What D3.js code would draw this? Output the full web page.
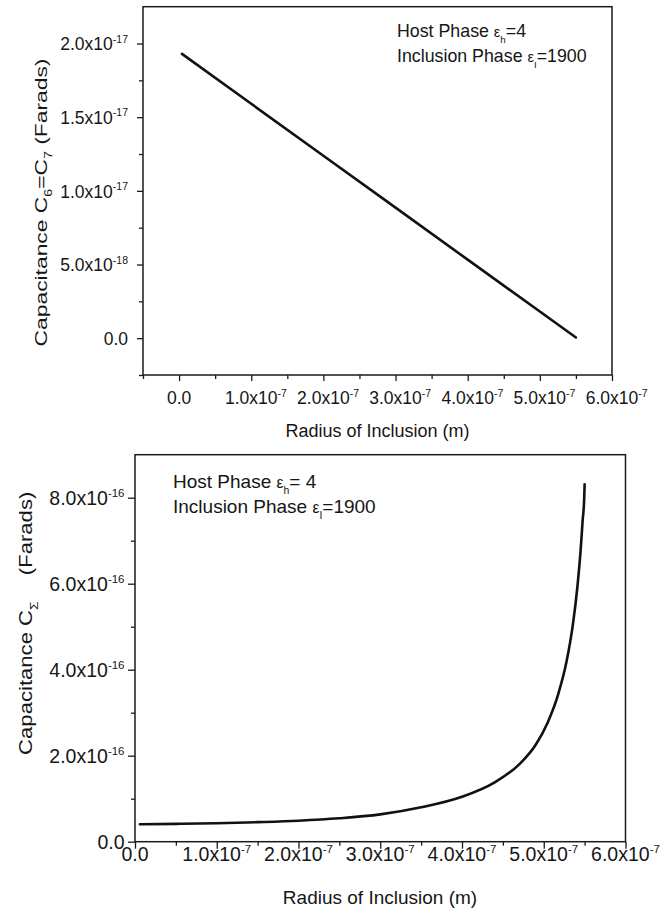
<!DOCTYPE html>
<html>
<head>
<meta charset="utf-8">
<script src="https://cdn.jsdelivr.net/npm/d3@7"></script>
<style>
  body { margin: 0; background: #fff; }
  svg { display: block; }
  text { font-family: "Liberation Sans", Arial, Helvetica, sans-serif; fill: #161616; }
</style>
</head>
<body>
<svg id="chart" width="668" height="909"></svg>
<script>
// ---------- DATA ----------
// Top panel: C6 = C7 versus radius of inclusion
const radiusTop = [0.04e-7, 1.0e-7, 2.0e-7, 3.0e-7, 4.0e-7, 5.0e-7, 5.5e-7];
const capTop    = [1.93e-17, 1.591e-17, 1.238e-17, 0.886e-17, 0.533e-17, 0.181e-17, 0.005e-17];

// Bottom panel: C_Sigma versus radius of inclusion
const radiusBottom = [0.06e-7, 0.5e-7, 1.0e-7, 1.5e-7, 2.0e-7, 2.5e-7, 3.0e-7, 3.5e-7, 4.0e-7, 4.4e-7,
                      4.7e-7, 4.9e-7, 5.05e-7, 5.18e-7, 5.28e-7, 5.36e-7, 5.41e-7, 5.45e-7, 5.475e-7, 5.495e-7, 5.5e-7];
const capBottom    = [0.405e-16, 0.415e-16, 0.43e-16, 0.455e-16, 0.488e-16, 0.544e-16, 0.635e-16, 0.80e-16, 1.045e-16, 1.38e-16,
                      1.80e-16, 2.25e-16, 2.78e-16, 3.45e-16, 4.20e-16, 5.10e-16, 5.90e-16, 6.75e-16, 7.45e-16, 8.0e-16, 8.31e-16];

// Ticks
const xMajorTop   = [0, 1e-7, 2e-7, 3e-7, 4e-7, 5e-7, 6e-7];
const xMinorTop   = [-0.5e-7, 0.5e-7, 1.5e-7, 2.5e-7, 3.5e-7, 4.5e-7, 5.5e-7];
const xTickMantTop = ["0.0", "1.0x10", "2.0x10", "3.0x10", "4.0x10", "5.0x10", "6.0x10"];
const xTickExpTop  = ["", "-7", "-7", "-7", "-7", "-7", "-7"];
const yMajorTop   = [0, 0.5e-17, 1.0e-17, 1.5e-17, 2.0e-17];
const yMinorTop   = [-0.25e-17, 0.25e-17, 0.75e-17, 1.25e-17, 1.75e-17];
const yTickMantTop = ["0.0", "5.0x10", "1.0x10", "1.5x10", "2.0x10"];
const yTickExpTop  = ["", "-18", "-17", "-17", "-17"];

const xMajorBottom = [0, 1e-7, 2e-7, 3e-7, 4e-7, 5e-7, 6e-7];
const xMinorBottom = [0.5e-7, 1.5e-7, 2.5e-7, 3.5e-7, 4.5e-7, 5.5e-7];
const xTickMantBottom = ["0.0", "1.0x10", "2.0x10", "3.0x10", "4.0x10", "5.0x10", "6.0x10"];
const xTickExpBottom  = ["", "-7", "-7", "-7", "-7", "-7", "-7"];
const yMajorBottom = [0, 2e-16, 4e-16, 6e-16, 8e-16];
const yMinorBottom = [1e-16, 3e-16, 5e-16, 7e-16];
const yTickMantBottom = ["0.0", "2.0x10", "4.0x10", "6.0x10", "8.0x10"];
const yTickExpBottom  = ["", "-16", "-16", "-16", "-16"];

// Texts
const xTitle = "Radius of Inclusion (m)";
const yTitleTop = [{t: "Capacitance C"}, {t: "6", k: "sub"}, {t: "=C"}, {t: "7", k: "sub"}, {t: " (Farads)"}];
const yTitleBottom = [{t: "Capacitance C"}, {t: "\u03A3", k: "sub"}, {t: "(Farads)", dx: 22}];
const legendTop = [
  [{t: "Host Phase "}, {t: "\u03B5", k: "eps"}, {t: "h", k: "sub"}, {t: "=4"}],
  [{t: "Inclusion Phase "}, {t: "\u03B5", k: "eps"}, {t: "I", k: "sub"}, {t: "=1900"}]
];
const legendBottom = [
  [{t: "Host Phase "}, {t: "\u03B5", k: "eps"}, {t: "h", k: "sub"}, {t: "= 4"}],
  [{t: "Inclusion Phase "}, {t: "\u03B5", k: "eps"}, {t: "I", k: "sub"}, {t: "=1900"}]
];

// ---------- DRAWING ----------
const svg = d3.select("#chart");

function richText(parent, parts, fs, subFs) {
  const text = parent.append("text").attr("font-size", fs);
  let shift = 0;
  parts.forEach(p => {
    const ts = text.append("tspan").text(p.t);
    let target = 0, size = fs;
    if (p.k === "sub") { target = fs * 0.33; size = subFs || fs * 0.6; }
    if (p.k === "sup") { target = -(p.raise || fs * 0.42); size = subFs || fs * 0.6; }
    if (p.k === "eps") { size = fs * 0.82; }
    ts.attr("font-size", size);
    if (target - shift !== 0) ts.attr("dy", target - shift);
    if (p.dx) ts.attr("dx", p.dx);
    shift = target;
  });
  return text;
}

function panel(c) {
  const g = svg.append("g");
  const x = d3.scaleLinear().domain(c.xDomain).range(c.xRange);
  const y = d3.scaleLinear().domain(c.yDomain).range(c.yRange);

  const axStyle = sel => {
    sel.select(".domain").remove();
    sel.selectAll(".tick line").attr("stroke", "#1a1a1a").attr("stroke-width", 1.3);
    sel.selectAll(".tick text").remove();
  };
  g.append("g").attr("transform", `translate(0,${c.yRange[0]})`)
    .call(d3.axisBottom(x).tickValues(c.xMajor).tickSize(c.majorLen).tickSizeOuter(0).tickFormat(""))
    .call(axStyle);
  g.append("g").attr("transform", `translate(0,${c.yRange[0]})`)
    .call(d3.axisBottom(x).tickValues(c.xMinor).tickSize(c.minorLen).tickSizeOuter(0).tickFormat(""))
    .call(axStyle);
  g.append("g").attr("transform", `translate(${c.xRange[0]},0)`)
    .call(d3.axisLeft(y).tickValues(c.yMajor).tickSize(c.majorLen).tickSizeOuter(0).tickFormat(""))
    .call(axStyle);
  g.append("g").attr("transform", `translate(${c.xRange[0]},0)`)
    .call(d3.axisLeft(y).tickValues(c.yMinor).tickSize(c.minorLen).tickSizeOuter(0).tickFormat(""))
    .call(axStyle);

  g.append("rect")
    .attr("x", c.xRange[0]).attr("y", c.yRange[1])
    .attr("width", c.xRange[1] - c.xRange[0]).attr("height", c.yRange[0] - c.yRange[1])
    .attr("fill", "none").attr("stroke", "#1a1a1a").attr("stroke-width", 1.5);

  c.xMajor.forEach((v, i) => {
    const parts = [{t: c.xMant[i]}];
    if (c.xExp[i]) parts.push({t: c.xExp[i], k: "sup", raise: c.supRaise});
    const t = richText(g, parts, c.tickFs, c.supFs).attr("y", c.xTickBase);
    const mainW = t.select("tspan").node().getComputedTextLength();
    const totW = t.node().getComputedTextLength();
    const w = c.centerMain ? mainW : totW;
    t.attr("x", x(v) - w / 2);
  });
  c.yMajor.forEach((v, i) => {
    const parts = [{t: c.yMant[i]}];
    if (c.yExp[i]) parts.push({t: c.yExp[i], k: "sup", raise: c.supRaise});
    richText(g, parts, c.tickFs, c.supFs)
      .attr("text-anchor", "end").attr("x", c.yTickRight).attr("y", y(v) + c.yTickOff);
  });

  g.append("text").attr("font-size", c.xTitleFs).attr("text-anchor", "middle")
    .attr("x", c.xTitlePos[0]).attr("y", c.xTitlePos[1]).text(xTitle);

  const yt = richText(g, c.yTitle, c.yTitleFs, c.yTitleFs * 0.62).attr("text-anchor", "middle");
  const natural = yt.node().getComputedTextLength();
  const sx = c.yTitleLen / natural;
  yt.attr("transform", `translate(${c.yTitlePos[0]},${c.yTitlePos[1]}) rotate(-90) scale(${sx},1)`);

  c.legend.forEach((parts, i) => {
    richText(g, parts, c.legFs, c.legFs * 0.55).attr("x", c.legPos[0]).attr("y", c.legPos[1] + i * c.legGap);
  });

  const line = d3.line().x(d => x(d[0])).y(d => y(d[1])).curve(c.curve || d3.curveLinear);
  g.append("path").datum(d3.zip(c.xs, c.ys))
    .attr("d", line).attr("fill", "none").attr("stroke", "#111")
    .attr("stroke-width", 2.6).attr("stroke-linejoin", "round").attr("stroke-linecap", "round");
}

panel({
  xDomain: [-0.5e-7, 6e-7], xRange: [143, 612],
  yDomain: [-0.25e-17, 2.25e-17], yRange: [375, 6.7],
  xMajor: xMajorTop, xMinor: xMinorTop, yMajor: yMajorTop, yMinor: yMinorTop,
  xMant: xTickMantTop, xExp: xTickExpTop, yMant: yTickMantTop, yExp: yTickExpTop,
  majorLen: 6, minorLen: 4,
  tickFs: 17.5, supFs: 10.5, supRaise: 7.5,
  xTickBase: 404, centerMain: true,
  yTickRight: 128, yTickOff: 6.8,
  xTitleFs: 18, xTitlePos: [377.5, 436.7],
  yTitle: yTitleTop, yTitleFs: 16.5, yTitlePos: [46.7, 202.5], yTitleLen: 288,
  legend: legendTop, legFs: 17.8, legPos: [397, 36.7], legGap: 25.5,
  xs: radiusTop, ys: capTop
});

panel({
  xDomain: [0, 6e-7], xRange: [135, 625.5],
  yDomain: [0, 9e-16], yRange: [841.7, 454.7],
  xMajor: xMajorBottom, xMinor: xMinorBottom, yMajor: yMajorBottom, yMinor: yMinorBottom,
  xMant: xTickMantBottom, xExp: xTickExpBottom, yMant: yTickMantBottom, yExp: yTickExpBottom,
  majorLen: 7, minorLen: 4,
  tickFs: 19.5, supFs: 11.5, supRaise: 8,
  xTickBase: 861, centerMain: false,
  yTickRight: 124.5, yTickOff: 6.8,
  xTitleFs: 19, xTitlePos: [380, 904],
  yTitle: yTitleBottom, yTitleFs: 18.5, yTitlePos: [31.7, 623.3], yTitleLen: 237,
  legend: legendBottom, legFs: 19, legPos: [173, 488], legGap: 25,
  xs: radiusBottom, ys: capBottom, curve: d3.curveMonotoneX
});
</script>
</body>
</html>
